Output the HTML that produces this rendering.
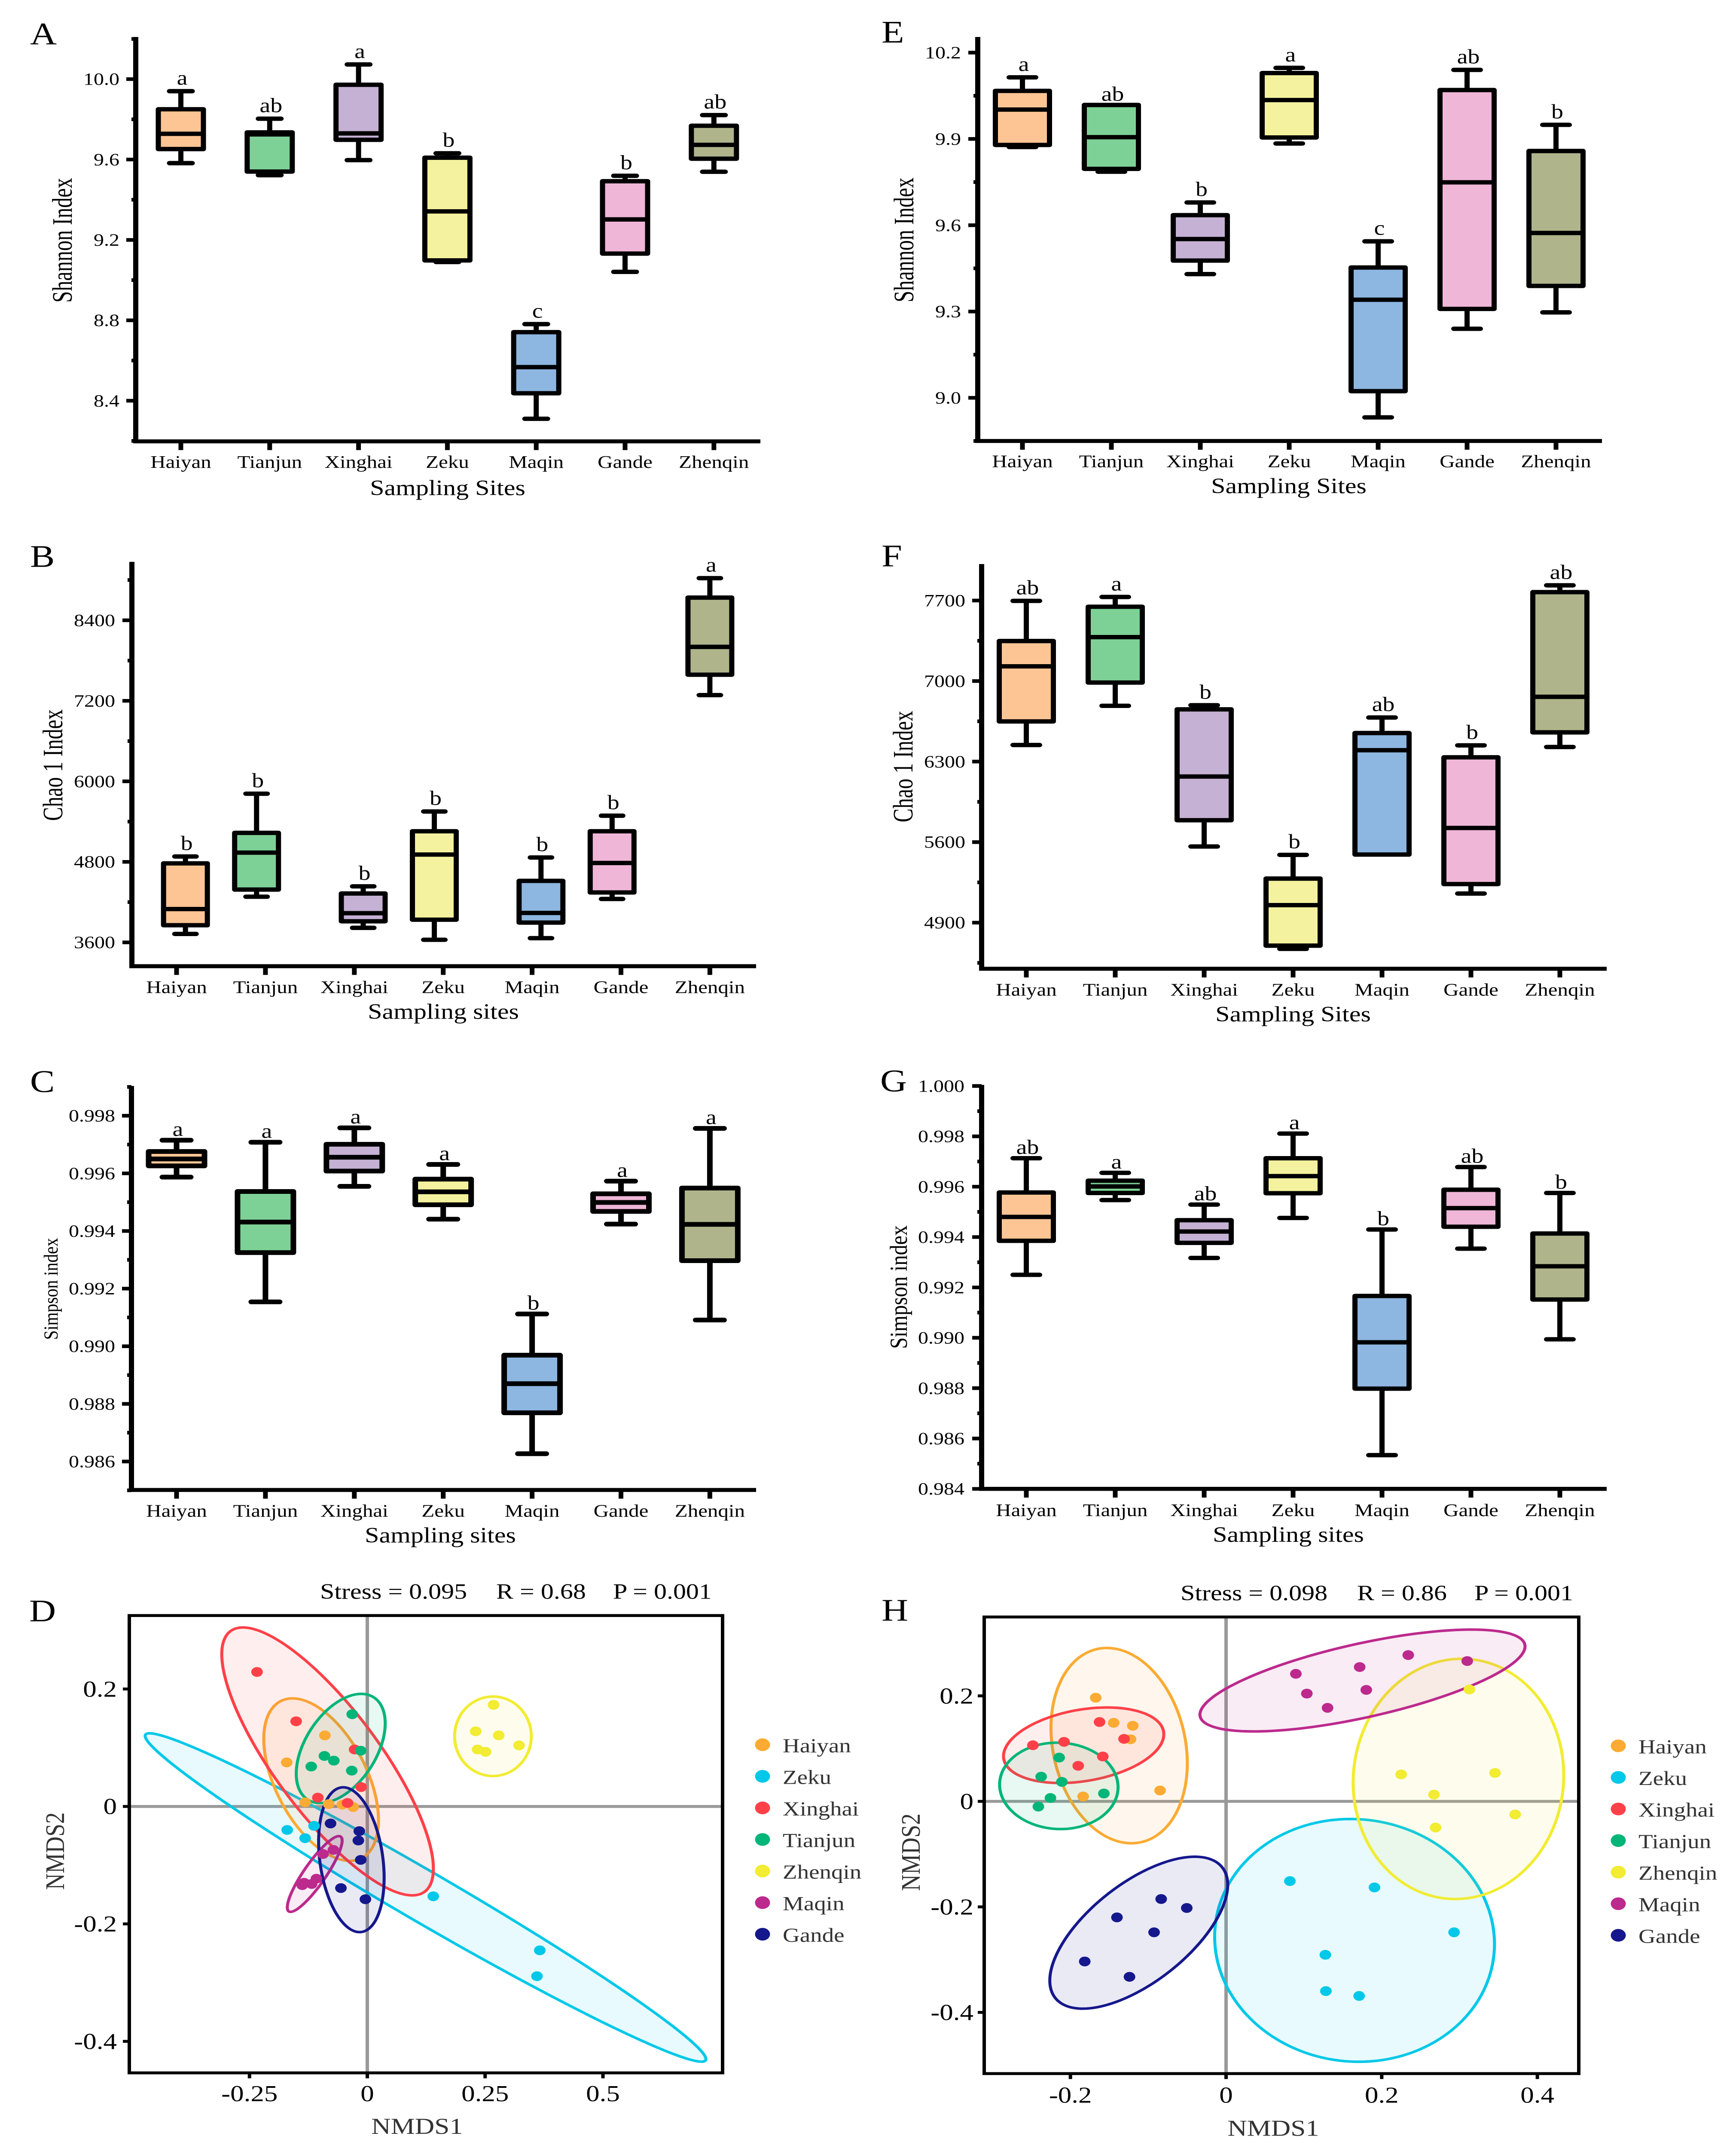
<!DOCTYPE html>
<html lang="en">
<head>
<meta charset="utf-8">
<title>Alpha diversity box plots and NMDS ordinations</title>
<style>
html,body{margin:0;padding:0;width:100%;height:100%;overflow:hidden;background:#fff;}
svg{display:block;position:absolute;left:0;top:0;width:100vw;height:100vh;overflow:hidden;font-family:"Liberation Serif","Times New Roman",serif;}
script{display:none;}
</style>
</head>
<body>
<svg id="figure" xmlns="http://www.w3.org/2000/svg" viewBox="0 0 4041 5918" preserveAspectRatio="none">
<rect x="0" y="0" width="4041" height="5918" fill="#ffffff"/>
</svg>
<script>
// ---------- shared categories ----------
const sites = ['Haiyan','Tianjun','Xinghai','Zeku','Maqin','Gande','Zhenqin'];
const boxColors = ['#FEC594','#7ED196','#C5B1D4','#F5F29F','#8DB6E1','#EFB6D7','#AFB48B'];

// ---------- Panel A ----------
const aWhiskerHigh = [9.94,9.803,10.073,9.631,8.781,9.519,9.821];
const aQ3 = [9.85,9.735,9.972,9.609,8.741,9.492,9.768];
const aMedian = [9.728,9.725,9.73,9.342,8.567,9.302,9.673];
const aQ1 = [9.652,9.54,9.698,9.098,8.437,9.132,9.604];
const aWhiskerLow = [9.582,9.522,9.597,9.09,8.31,9.041,9.539];
const aLetters = ['a','ab','a','b','c','b','ab'];
const aTicks = ['10.0','9.6','9.2','8.8','8.4'];
const aMinor = [10.2,9.8,9.4,9.0,8.6,8.2];

// ---------- Panel B ----------
const bWhiskerHigh = [4880,5816,4435,5551,4865,5488,9028];
const bQ3 = [4778,5232,4329,5256,4517,5256,8738];
const bMedian = [4097,4938,4035,4909,4039,4783,8004];
const bQ1 = [3856,4387,3914,3938,3895,4344,7589];
const bWhiskerLow = [3726,4281,3817,3639,3663,4247,7285];
const bLetters = ['b','b','b','b','b','b','a'];
const bTicks = ['8400','7200','6000','4800','3600'];
const bMinor = [9000,7800,6600,5400,4200];
const bDodge = [0.1,-0.1,0.1,-0.1,0.1,-0.1,0];

// ---------- Panel C ----------
const cWhiskerHigh = [0.99715,0.99708,0.99758,0.99631,0.99112,0.99573,0.99756];
const cQ3 = [0.99676,0.99537,0.99701,0.9958,0.98969,0.99529,0.99549];
const cMedian = [0.9965,0.99431,0.99656,0.99536,0.9887,0.99499,0.99423];
const cQ1 = [0.99626,0.99325,0.99608,0.99491,0.98769,0.99468,0.99297];
const cWhiskerLow = [0.99587,0.99154,0.99555,0.99441,0.98627,0.99424,0.99091];
const cLetters = ['a','a','a','a','b','a','a'];
const cTicks = ['0.998','0.996','0.994','0.992','0.990','0.988','0.986'];
const cMinor = [0.999,0.997,0.995,0.993,0.991,0.989,0.987,0.985];

// ---------- Panel E ----------
const eWhiskerHigh = [10.114,10.01,9.679,10.147,9.544,10.14,9.949];
const eQ3 = [10.067,10.018,9.635,10.129,9.453,10.07,9.858];
const eMedian = [10.002,9.906,9.552,10.035,9.341,9.749,9.573];
const eQ1 = [9.879,9.796,9.477,9.905,9.023,9.309,9.389];
const eWhiskerLow = [9.872,9.786,9.43,9.884,8.932,9.24,9.297];
const eLetters = ['a','ab','b','a','c','ab','b'];
const eTicks = ['10.2','9.9','9.6','9.3','9.0'];
const eMinor = [10.05,9.75,9.45,9.15,8.85];

// ---------- Panel F ----------
const fWhiskerHigh = [7697,7731,6790,5489,6683,6441,7832];
const fQ3 = [7348,7646,6754,5283,6548,6337,7773];
const fMedian = [7128,7382,6170,5052,6399,5723,6863];
const fQ1 = [6649,6987,5790,4700,5492,5235,6554];
const fWhiskerLow = [6444,6785,5562,4672,5525,5153,6427];
const fLetters = ['ab','a','b','b','ab','b','ab'];
const fTicks = ['7700','7000','6300','5600','4900'];
const fMinor = [7350,6650,5950,5250,4550];

// ---------- Panel G ----------
const gWhiskerHigh = [0.99713,0.99655,0.99529,0.99811,0.9943,0.99678,0.99575];
const gQ3 = [0.99577,0.99624,0.99467,0.99713,0.99166,0.99588,0.99414];
const gMedian = [0.9948,0.99601,0.99422,0.99642,0.98982,0.99515,0.99284];
const gQ1 = [0.99385,0.99575,0.99377,0.99574,0.98798,0.99441,0.99152];
const gWhiskerLow = [0.9925,0.99547,0.99317,0.99476,0.98534,0.99354,0.98994];
const gLetters = ['ab','a','ab','a','b','ab','b'];
const gTicks = ['1.000','0.998','0.996','0.994','0.992','0.990','0.988','0.986','0.984'];
const gMinor = [0.999,0.997,0.995,0.993,0.991,0.989,0.987,0.985];

// ---------- NMDS groups ----------
const nmdsGroups = ['Haiyan','Zeku','Xinghai','Tianjun','Zhenqin','Maqin','Gande'];
const nmdsColors = ['#FBAB33','#00C8E8','#FF4048','#00B578','#F2EC32','#BC2A8D','#15188C'];

// Panel D points [NMDS1, NMDS2]
const dHaiyan = [[-0.09,0.121],[-0.171,0.075],[-0.132,0.007],[-0.082,0.004],[-0.053,0.003],[-0.03,-0.001]];
const dZeku = [[-0.17,-0.04],[-0.113,-0.033],[-0.132,-0.054],[0.14,-0.153],[0.366,-0.245],[0.36,-0.289]];
const dXinghai = [[-0.234,0.229],[-0.151,0.145],[-0.027,0.097],[-0.013,0.033],[-0.105,0.015],[-0.042,0.006]];
const dTianjun = [[-0.032,0.157],[-0.091,0.086],[-0.071,0.078],[-0.119,0.068],[-0.033,0.061],[-0.014,0.095]];
const dZhenqin = [[0.268,0.173],[0.23,0.128],[0.279,0.121],[0.322,0.104],[0.234,0.097],[0.251,0.093]];
const dMaqin = [[-0.072,-0.074],[-0.094,-0.081],[-0.108,-0.123],[-0.138,-0.134],[-0.118,-0.132],[-0.134,-0.13]];
const dGande = [[-0.078,-0.029],[-0.017,-0.042],[-0.019,-0.058],[-0.014,-0.091],[-0.056,-0.139],[-0.004,-0.158]];
// Panel D ellipses [centre1, centre2, spread1, spread2, correlation]
const dEllHaiyan = [-0.098,0.0457,0.1217,0.1383,-0.5];
const dEllZeku = [0.1235,-0.155,0.595,0.2796,-0.984];
const dEllXinghai = [-0.0843,0.0767,0.2245,0.2281,-0.8];
const dEllTianjun = [-0.0564,0.0987,0.0944,0.093,0.46];
const dEllZhenqin = [0.2666,0.1195,0.0814,0.0677,0];
const dEllMaqin = [-0.1116,-0.115,0.0582,0.0645,0.88];
const dEllGande = [-0.0338,-0.0907,0.0695,0.1233,-0.25];
const dXTicks = ['-0.25','0','0.25','0.5'];
const dYTicks = ['0.2','0','-0.2','-0.4'];

// Panel H points [NMDS1, NMDS2]
const hHaiyan = [[-0.1675,0.1965],[-0.1444,0.1489],[-0.1199,0.1433],[-0.1227,0.1177],[-0.0848,0.0206],[-0.1837,0.0092]];
const hZeku = [[0.082,-0.1511],[0.1907,-0.1631],[0.293,-0.2482],[0.1276,-0.2908],[0.1283,-0.3596],[0.171,-0.3688]];
const hXinghai = [[-0.2482,0.1064],[-0.2082,0.1128],[-0.1626,0.1504],[-0.1311,0.1184],[-0.1584,0.0851],[-0.19,0.0674]];
const hTianjun = [[-0.2145,0.083],[-0.2376,0.0468],[-0.211,0.0369],[-0.157,0.0149],[-0.2257,0.0064],[-0.2412,-0.0099]];
const hZhenqin = [[0.3127,0.2121],[0.225,0.0511],[0.3456,0.0539],[0.2671,0.0128],[0.3715,-0.0248],[0.2692,-0.0496]];
const hMaqin = [[0.0897,0.2418],[0.1038,0.2043],[0.1304,0.1773],[0.1717,0.2546],[0.1802,0.2113],[0.2341,0.2773],[0.3099,0.266]];
const hGande = [[-0.0834,-0.1851],[-0.0505,-0.2021],[-0.1402,-0.2199],[-0.0925,-0.2482],[-0.1816,-0.3035],[-0.1241,-0.3326]];
// Panel H ellipses [centre1, centre2, spread1, spread2, correlation]
const hEllHaiyan = [-0.1374,0.1057,0.0876,0.1851,-0.18];
const hEllZeku = [0.1651,-0.2635,0.1798,0.2301,-0.03];
const hEllXinghai = [-0.183,0.1064,0.103,0.0716,0.29];
const hEllTianjun = [-0.2149,0.0294,0.0761,0.0819,-0.03];
const hEllZhenqin = [0.2986,0.0426,0.1353,0.2277,0.03];
const hEllMaqin = [0.1753,0.2291,0.2089,0.0965,0.67];
const hEllGande = [-0.1122,-0.2489,0.1143,0.144,0.63];
const hXTicks = ['-0.2','0','0.2','0.4'];
const hYTicks = ['0.2','0','-0.2','-0.4'];

// ---------- drawing helpers ----------
const NS = 'http://www.w3.org/2000/svg';
const root = document.getElementById('figure');
function mk(parent, tag, attrs, txt){
  const e = document.createElementNS(NS, tag);
  for (const k in attrs) e.setAttribute(k, attrs[k]);
  if (txt !== undefined) e.textContent = txt;
  parent.appendChild(e);
  return e;
}
function mkLine(parent, x1, y1, x2, y2, color, w, cap){
  return mk(parent, 'line', {x1:x1, y1:y1, x2:x2, y2:y2, stroke:color, 'stroke-width':w, 'stroke-linecap':cap || 'butt'});
}

function boxPanel(c){
  const g = mk(root, 'g', {});
  
  
  const yScale = v => c.cal[1] + (v - c.cal[0]) * (c.cal[3] - c.cal[1]) / (c.cal[2] - c.cal[0]);
  const xScale = i => c.firstX + i * c.step;

  const letter = mk(g, 'text', {x:c.letterX, y:c.letterY, 'font-size':86, fill:'#000'}, c.id);
  
  

  c.minor.forEach(v => {
    const t = mkLine(g, c.left, yScale(v), c.left - 10, yScale(v), '#000', 10);
    
    
  });
  c.ticks.forEach(s => {
    const v = parseFloat(s);
    const t = mkLine(g, c.left, yScale(v), c.left - 22, yScale(v), '#000', 10);
    
    
    const l = mk(g, 'text', {x:c.tickRight, y:yScale(v) + 16, 'font-size':48, 'text-anchor':'end', fill:'#000'}, s);
    
    
  });
  const ya = mkLine(g, c.left, c.top, c.left, c.bottom + 5, '#000', 12);
  
  
  const xa = mkLine(g, c.left - 6, c.bottom, c.right, c.bottom, '#000', 11);
  
  

  sites.forEach((site, i) => {
    const xt = xScale(i);
    const tk = mkLine(g, xt, c.bottom, xt, c.bottom + 24, '#000', 11);
    
    
    const lab = mk(g, 'text', {x:xt, y:c.catY, 'font-size':49, 'text-anchor':'middle', fill:'#000'}, site);
    
    

    const bx = xt + (c.dodge ? c.dodge[i] * c.step : 0);
    const sw = c.sw;
    const whisker = mkLine(g, bx, yScale(c.wh[i]), bx, yScale(c.wl[i]), '#000', sw);
    
    
    const capHi = mkLine(g, bx - c.capW / 2, yScale(c.wh[i]), bx + c.capW / 2, yScale(c.wh[i]), '#000', sw, 'round');
    
    
    const capLo = mkLine(g, bx - c.capW / 2, yScale(c.wl[i]), bx + c.capW / 2, yScale(c.wl[i]), '#000', sw, 'round');
    
    
    const yTop = yScale(c.q3[i]), yBot = yScale(c.q1[i]);
    const box = mk(g, 'rect', {x:bx - c.boxW / 2, y:yTop, width:c.boxW, height:yBot - yTop, fill:boxColors[i], stroke:'#000', 'stroke-width':sw, 'stroke-linejoin':'round'});
    
    
    const med = mkLine(g, bx - c.boxW / 2, yScale(c.med[i]), bx + c.boxW / 2, yScale(c.med[i]), '#000', sw);
    
    
    const sig = mk(g, 'text', {x:bx + 3, y:yScale(c.wh[i]) - c.letterGap, 'font-size':56, 'text-anchor':'middle', fill:'#000'}, c.letters[i]);
    
    
  });

  const xt = mk(g, 'text', {x:c.xTitleX, y:c.xTitleY, 'font-size':60, 'text-anchor':'middle', fill:'#000'}, c.xTitle);
  
  
  const ySx = c.yTitleSx || 1;
  const yt = mk(g, 'text', {x:0, y:0, 'font-size':c.yTitleSize, 'text-anchor':'middle', fill:'#000', transform:'translate(' + c.yTitleX + ' ' + c.yTitleY + ') rotate(-90) scale(' + ySx + ' 1)'}, c.yTitle);
  
  
}

function nmdsPanel(c){
  const g = mk(root, 'g', {});
  
  
  const xScale = v => c.x0 + v * c.xUnit;
  const yScale = v => c.y0 - v * c.yUnit;

  const letter = mk(g, 'text', {x:c.letterX, y:c.letterY, 'font-size':86, fill:'#000'}, c.id);
  
  

  c.stats.forEach((s, i) => {
    const t = mk(g, 'text', {x:c.statX[i], y:c.statY, 'font-size':60, fill:'#000'}, s);
    
    
  });

  const bg = mk(g, 'rect', {x:c.left, y:c.top, width:c.right - c.left, height:c.bottom - c.top, fill:'#fff'});
  
  
  const hz = mkLine(g, c.left, c.y0, c.right, c.y0, '#999', 8);
  
  
  const vt = mkLine(g, c.x0, c.top, c.x0, c.bottom, '#999', 8);
  
  

  c.drawOrder.forEach(idx => {
    const e = c.ellipses[idx];
    let d = '';
    const phi = Math.acos(e[4]);
    for (let k = 0; k < 180; k++){
      const t = k / 180 * 2 * Math.PI;
      const px = xScale(e[0] + e[2] * Math.cos(t));
      const py = yScale(e[1] + e[3] * Math.cos(t - phi));
      d += (k ? 'L' : 'M') + px.toFixed(1) + ' ' + py.toFixed(1);
    }
    d += 'Z';
    const path = mk(g, 'path', {d:d, fill:nmdsColors[idx], 'fill-opacity':0.09, stroke:nmdsColors[idx], 'stroke-width':7, 'stroke-linejoin':'round'});
    
    
  });

  c.points.forEach((pts, idx) => {
    pts.forEach(p => {
      const dot = mk(g, 'circle', {cx:xScale(p[0]), cy:yScale(p[1]), r:13.5, fill:nmdsColors[idx]});
      
      
    });
  });

  const frame = mk(g, 'rect', {x:c.left, y:c.top, width:c.right - c.left, height:c.bottom - c.top, fill:'none', stroke:'#000', 'stroke-width':8});
  
  

  c.xTicks.forEach(s => {
    const v = parseFloat(s);
    const t = mkLine(g, xScale(v), c.bottom, xScale(v), c.bottom + 15, '#000', 8);
    
    
    const l = mk(g, 'text', {x:xScale(v), y:c.xTickY, 'font-size':63, 'text-anchor':'middle', fill:'#000'}, s);
    
    
  });
  c.yTicks.forEach(s => {
    const v = parseFloat(s);
    const t = mkLine(g, c.left, yScale(v), c.left - 15, yScale(v), '#000', 8);
    
    
    const l = mk(g, 'text', {x:c.yTickRight, y:yScale(v) + 21, 'font-size':63, 'text-anchor':'end', fill:'#000'}, s);
    
    
  });

  const xt = mk(g, 'text', {x:c.xTitleX, y:c.xTitleY, 'font-size':63, 'text-anchor':'middle', fill:'#333'}, 'NMDS1');
  
  
  const yt = mk(g, 'text', {x:0, y:0, 'font-size':63, 'text-anchor':'middle', fill:'#333', transform:'translate(' + c.yTitleX + ' ' + c.yTitleY + ') rotate(-90)'}, 'NMDS2');
  
  

  nmdsGroups.forEach((name, i) => {
    const ly = c.legendY + i * c.legendStep;
    const key = mk(g, 'circle', {cx:c.legendX, cy:ly, r:17.5, fill:nmdsColors[i]});
    
    
    const lab = mk(g, 'text', {x:c.legendX + 47, y:ly + 21, 'font-size':55, fill:'#333'}, name);
    
    
  });
}

// ---------- panels ----------
boxPanel({id:'A', wh:aWhiskerHigh, q3:aQ3, med:aMedian, q1:aQ1, wl:aWhiskerLow, letters:aLetters, ticks:aTicks, minor:aMinor,
  cal:[10.0,218,8.4,1104], left:316, right:1770, top:102, bottom:1216, firstX:421, step:206.8, boxW:105, capW:53, sw:12, letterGap:18,
  tickRight:278, catY:1289, xTitle:'Sampling Sites', xTitleX:1042, xTitleY:1364, yTitle:'Shannon Index', yTitleX:167, yTitleY:662, yTitleSize:66, yTitleSx:0.864, letterX:70, letterY:122});

boxPanel({id:'B', wh:bWhiskerHigh, q3:bQ3, med:bMedian, q1:bQ1, wl:bWhiskerLow, letters:bLetters, ticks:bTicks, minor:bMinor, dodge:bDodge,
  cal:[8400,1709,3600,2596.4], left:307, right:1760, top:1548, bottom:2662, firstX:411, step:206.9, boxW:102, capW:50, sw:12, letterGap:18,
  tickRight:268, catY:2736, xTitle:'Sampling sites', xTitleX:1032, xTitleY:2807, yTitle:'Chao 1 Index', yTitleX:145, yTitleY:2108, yTitleSize:66, yTitleSx:0.864, letterX:70, letterY:1562});

boxPanel({id:'C', wh:cWhiskerHigh, q3:cQ3, med:cMedian, q1:cQ1, wl:cWhiskerLow, letters:cLetters, ticks:cTicks, minor:cMinor,
  cal:[0.998,3074,0.986,4026.6], left:306, right:1760, top:2992, bottom:4105, firstX:411, step:206.9, boxW:130, capW:66, sw:13, letterGap:12,
  tickRight:268, catY:4179, xTitle:'Sampling sites', xTitleX:1025, xTitleY:4250, yTitle:'Simpson index', yTitleX:134, yTitleY:3551, yTitleSize:47, letterX:70, letterY:3009});

boxPanel({id:'E', wh:eWhiskerHigh, q3:eQ3, med:eMedian, q1:eQ1, wl:eWhiskerLow, letters:eLetters, ticks:eTicks, minor:eMinor,
  cal:[10.2,145,9.0,1096], left:2276, right:3729, top:102, bottom:1215, firstX:2380, step:207, boxW:126, capW:62, sw:12, letterGap:18,
  tickRight:2237, catY:1287, xTitle:'Sampling Sites', xTitleX:3000, xTitleY:1359, yTitle:'Shannon Index', yTitleX:2126, yTitleY:661, yTitleSize:66, yTitleSx:0.864, letterX:2052, letterY:117});

boxPanel({id:'F', wh:fWhiskerHigh, q3:fQ3, med:fMedian, q1:fQ1, wl:fWhiskerLow, letters:fLetters, ticks:fTicks, minor:fMinor,
  cal:[7700,1654.5,4900,2542], left:2285, right:3740, top:1554, bottom:2669, firstX:2389, step:207, boxW:126, capW:62, sw:12, letterGap:18,
  tickRight:2247, catY:2743, xTitle:'Sampling Sites', xTitleX:3010, xTitleY:2814, yTitle:'Chao 1 Index', yTitleX:2124, yTitleY:2112, yTitleSize:66, yTitleSx:0.864, letterX:2052, letterY:1560});

boxPanel({id:'G', wh:gWhiskerHigh, q3:gQ3, med:gMedian, q1:gQ1, wl:gWhiskerLow, letters:gLetters, ticks:gTicks, minor:gMinor,
  cal:[1.0,2992,0.984,4102], left:2285, right:3740, top:2989, bottom:4102, firstX:2389, step:207, boxW:126, capW:62, sw:12, letterGap:12,
  tickRight:2245, catY:4177, xTitle:'Sampling sites', xTitleX:2999, xTitleY:4248, yTitle:'Simpson index', yTitleX:2111, yTitleY:3546, yTitleSize:57, letterX:2049, letterY:3007});

nmdsPanel({id:'D', points:[dHaiyan,dZeku,dXinghai,dTianjun,dZhenqin,dMaqin,dGande],
  ellipses:[dEllHaiyan,dEllZeku,dEllXinghai,dEllTianjun,dEllZhenqin,dEllMaqin,dEllGande], drawOrder:[1,0,2,3,4,5,6],
  xTicks:dXTicks, yTicks:dYTicks, x0:855, xUnit:1097, y0:4977, yUnit:1618,
  left:301, right:1682, top:4451, bottom:5711, xTickY:5789, yTickRight:272,
  stats:['Stress = 0.095','R = 0.68','P = 0.001'], statX:[745,1155,1427], statY:4405,
  xTitleX:971, xTitleY:5879, yTitleX:149, yTitleY:5100, letterX:68, letterY:4467,
  legendX:1775, legendY:4807, legendStep:87});

nmdsPanel({id:'H', points:[hHaiyan,hZeku,hXinghai,hTianjun,hZhenqin,hMaqin,hGande],
  ellipses:[hEllHaiyan,hEllZeku,hEllXinghai,hEllTianjun,hEllZhenqin,hEllMaqin,hEllGande], drawOrder:[1,0,2,3,4,5,6],
  xTicks:hXTicks, yTicks:hYTicks, x0:2854, xUnit:1811.5, y0:4963, yUnit:1453.5,
  left:2291, right:3675, top:4455, bottom:5713, xTickY:5793, yTickRight:2266,
  stats:['Stress = 0.098','R = 0.86','P = 0.001'], statX:[2748,3159,3432], statY:4409,
  xTitleX:2964, xTitleY:5884, yTitleX:2141, yTitleY:5103, letterX:2052, letterY:4465,
  legendX:3767, legendY:4810, legendStep:87});
</script>
</body>
</html>
